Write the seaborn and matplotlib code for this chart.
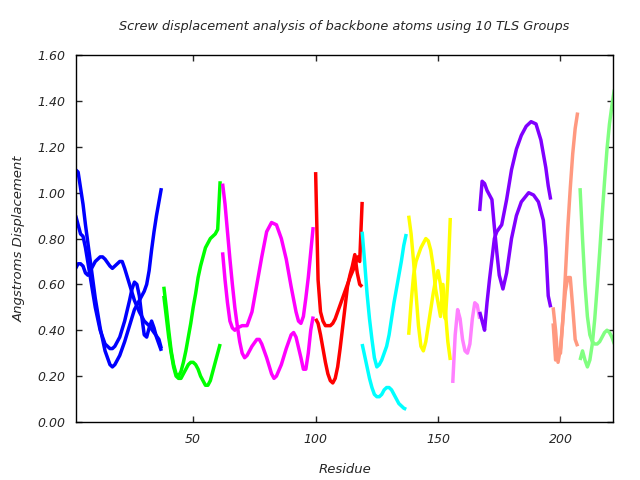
import numpy as np
import pandas as pd
import matplotlib
matplotlib.use("Agg")
import matplotlib.pyplot as plt
import seaborn as sns

# per-group screw displacement traces
blue_a_x = [2, 3, 4, 5, 6, 8, 10, 12, 14, 16, 17, 18, 20, 22, 24, 26, 28, 30, 31, 32, 33, 34, 35, 36, 37]
blue_a_y = [1.10, 1.09, 1.02, 0.95, 0.86, 0.70, 0.54, 0.41, 0.31, 0.25, 0.24, 0.25, 0.29, 0.35, 0.42, 0.49, 0.53, 0.57, 0.60, 0.66, 0.75, 0.83, 0.90, 0.96, 1.02]
blue_b_x = [2, 3, 4, 5, 6, 8, 10, 12, 14, 16, 17, 18, 20, 22, 24, 25, 26, 27, 28, 29, 30, 31, 32, 33, 34, 35, 36, 37]
blue_b_y = [0.90, 0.86, 0.82, 0.81, 0.76, 0.63, 0.50, 0.40, 0.34, 0.32, 0.32, 0.33, 0.37, 0.44, 0.53, 0.58, 0.61, 0.60, 0.55, 0.46, 0.38, 0.37, 0.41, 0.44, 0.41, 0.37, 0.34, 0.31]
blue_c_x = [2, 3, 4, 5, 6, 7, 8, 10, 12, 13, 14, 16, 17, 18, 20, 21, 22, 24, 26, 28, 30, 32, 34, 36, 37]
blue_c_y = [0.67, 0.69, 0.69, 0.68, 0.65, 0.64, 0.66, 0.70, 0.72, 0.72, 0.71, 0.68, 0.67, 0.68, 0.70, 0.70, 0.67, 0.60, 0.53, 0.48, 0.44, 0.42, 0.39, 0.36, 0.32]

green_x = [38, 39, 40, 41, 42, 43, 44, 45, 46, 47, 48, 49, 50, 51, 52, 53, 54, 55, 56, 57, 58, 59, 60, 61]
green_a_y = [0.59, 0.50, 0.40, 0.31, 0.25, 0.21, 0.20, 0.22, 0.26, 0.31, 0.37, 0.43, 0.50, 0.56, 0.63, 0.68, 0.72, 0.76, 0.78, 0.80, 0.81, 0.82, 0.84, 1.05]
green_b_y = [0.55, 0.46, 0.37, 0.30, 0.24, 0.20, 0.19, 0.19, 0.21, 0.23, 0.25, 0.26, 0.26, 0.25, 0.23, 0.20, 0.18, 0.16, 0.16, 0.18, 0.22, 0.26, 0.30, 0.34]

mag_a_x = [62, 63, 64, 65, 66, 67, 68, 69, 70, 71, 72, 74, 76, 77, 78, 80, 82, 83, 84, 86, 88, 90, 91, 92, 94, 95, 96, 97, 98, 99]
mag_a_y = [1.04, 0.95, 0.83, 0.71, 0.60, 0.50, 0.42, 0.35, 0.30, 0.28, 0.29, 0.33, 0.36, 0.36, 0.34, 0.28, 0.21, 0.19, 0.20, 0.25, 0.32, 0.38, 0.39, 0.37, 0.28, 0.23, 0.23, 0.30, 0.40, 0.46]
mag_b_x = [62, 63, 64, 65, 66, 67, 68, 70, 72, 74, 76, 78, 80, 82, 84, 86, 88, 90, 92, 93, 94, 95, 96, 97, 98, 99]
mag_b_y = [0.74, 0.62, 0.52, 0.44, 0.41, 0.40, 0.41, 0.42, 0.42, 0.48, 0.60, 0.72, 0.83, 0.87, 0.86, 0.80, 0.71, 0.59, 0.48, 0.44, 0.43, 0.46, 0.54, 0.63, 0.74, 0.85]

red_a_x = [100, 101, 102, 103, 104, 105, 106, 107, 108, 110, 112, 114, 116, 117, 118, 119]
red_a_y = [1.09, 0.62, 0.48, 0.44, 0.42, 0.42, 0.42, 0.43, 0.45, 0.51, 0.57, 0.63, 0.68, 0.72, 0.70, 0.96]
red_b_x = [100, 101, 102, 103, 104, 105, 106, 107, 108, 109, 110, 111, 112, 113, 114, 115, 116, 117, 118, 119]
red_b_y = [0.45, 0.43, 0.38, 0.32, 0.26, 0.21, 0.18, 0.17, 0.19, 0.24, 0.32, 0.41, 0.50, 0.59, 0.64, 0.68, 0.73, 0.65, 0.60, 0.59]

cyan_x = [119, 120, 121, 122, 123, 124, 125, 126, 127, 128, 129, 130, 131, 132, 133, 134, 135, 136, 137]
cyan_a_y = [0.83, 0.70, 0.56, 0.45, 0.36, 0.28, 0.24, 0.25, 0.27, 0.30, 0.33, 0.38, 0.45, 0.52, 0.58, 0.64, 0.70, 0.77, 0.82]
cyan_b_y = [0.34, 0.29, 0.24, 0.19, 0.15, 0.12, 0.11, 0.11, 0.12, 0.14, 0.15, 0.15, 0.14, 0.12, 0.10, 0.08, 0.07, 0.06, 0.055]

yellow_x = [138, 139, 140, 141, 142, 143, 144, 145, 146, 147, 148, 149, 150, 151, 152, 153, 154, 155]
yellow_a_y = [0.90, 0.82, 0.70, 0.56, 0.42, 0.33, 0.31, 0.35, 0.42, 0.49, 0.56, 0.62, 0.66, 0.60, 0.50, 0.45, 0.62, 0.89]
yellow_b_y = [0.38, 0.52, 0.64, 0.70, 0.73, 0.76, 0.78, 0.80, 0.79, 0.75, 0.68, 0.58, 0.52, 0.46, 0.60, 0.48, 0.35, 0.27]

pink_x = [156, 157, 158, 159, 160, 161, 162, 163, 164, 165, 166, 167]
pink_y = [0.17, 0.38, 0.49, 0.45, 0.36, 0.31, 0.30, 0.34, 0.45, 0.52, 0.51, 0.45]

purple_a_x = [167, 168, 169, 170, 172, 173, 174, 175, 176.5, 178, 180, 182, 184, 187, 189, 191, 193, 194, 195, 196]
purple_a_y = [0.92, 1.05, 1.04, 1.01, 0.97, 0.85, 0.74, 0.64, 0.58, 0.65, 0.80, 0.90, 0.96, 1.00, 0.99, 0.96, 0.88, 0.76, 0.55, 0.50]
purple_b_x = [167, 168, 169, 170, 171, 172, 173, 174, 176, 178, 180, 182, 184, 186, 188, 190, 192, 194, 195, 196]
purple_b_y = [0.48, 0.44, 0.40, 0.52, 0.62, 0.71, 0.80, 0.83, 0.86, 0.97, 1.10, 1.19, 1.25, 1.29, 1.31, 1.30, 1.23, 1.11, 1.03, 0.97]

salmon_x = [197, 198, 199, 200, 201, 202, 203, 204, 205, 206, 207]
salmon_a_y = [0.50, 0.40, 0.26, 0.32, 0.45, 0.57, 0.63, 0.63, 0.50, 0.36, 0.33]
salmon_b_y = [0.43, 0.27, 0.30, 0.30, 0.45, 0.64, 0.85, 1.02, 1.17, 1.28, 1.35]

lgreen_x = [208, 209, 210, 211, 212, 213, 214, 215, 216, 217, 218, 219, 220, 221, 222]
lgreen_a_y = [1.02, 0.80, 0.60, 0.46, 0.38, 0.35, 0.34, 0.34, 0.35, 0.37, 0.39, 0.40, 0.39, 0.37, 0.34]
lgreen_b_y = [0.27, 0.31, 0.27, 0.24, 0.27, 0.34, 0.45, 0.59, 0.74, 0.90, 1.05, 1.19, 1.30, 1.38, 1.45]

group_colors = {
    "g1": "#0000ff", "g2": "#00ff00", "g3": "#ff00ff", "g4": "#ff0000", "g5": "#00ffff",
    "g6": "#ffff00", "g7": "#ff80ff", "g8": "#8000ff", "g9": "#ff9980", "g10": "#80ff80",
}

traces = [
    ("g1", blue_a_x, blue_a_y), ("g1", blue_b_x, blue_b_y), ("g1", blue_c_x, blue_c_y),
    ("g2", green_x, green_a_y), ("g2", green_x, green_b_y),
    ("g3", mag_a_x, mag_a_y), ("g3", mag_b_x, mag_b_y),
    ("g4", red_a_x, red_a_y), ("g4", red_b_x, red_b_y),
    ("g5", cyan_x, cyan_a_y), ("g5", cyan_x, cyan_b_y),
    ("g6", yellow_x, yellow_a_y), ("g6", yellow_x, yellow_b_y),
    ("g7", pink_x, pink_y),
    ("g8", purple_a_x, purple_a_y), ("g8", purple_b_x, purple_b_y),
    ("g9", salmon_x, salmon_a_y), ("g9", salmon_x, salmon_b_y),
    ("g10", lgreen_x, lgreen_a_y), ("g10", lgreen_x, lgreen_b_y),
]

rows = []
for i, (grp, xs, ys) in enumerate(traces):
    for x, y in zip(xs, ys):
        rows.append({"residue": x, "disp": y, "group": grp, "line": i})
df = pd.DataFrame(rows)

sns.set_theme(style="ticks")
plt.rcParams['font.family'] = ['DejaVu Sans']

fig = plt.figure(figsize=(6.4, 4.8), dpi=100)
ax = fig.add_axes([0.119, 0.121, 0.839, 0.764])

sns.lineplot(data=df, x="residue", y="disp", hue="group", units="line", estimator=None,
             sort=False, palette=group_colors, linewidth=2.5, legend=False, ax=ax,
             solid_capstyle="butt")

ax.set_xlim(2.2, 221.5)
ax.set_ylim(0, 1.6)
ax.set_xticks([50, 100, 150, 200])
ax.set_yticks(np.arange(0, 1.61, 0.2))
ax.set_yticklabels([f"{v:.2f}" for v in np.arange(0, 1.61, 0.2)])
ax.tick_params(direction="in", top=True, right=True, length=4, width=1, labelsize=9, pad=8)
for lab in ax.get_xticklabels() + ax.get_yticklabels():
    lab.set_fontstyle("italic")
for s in ax.spines.values():
    s.set_linewidth(1)
    s.set_color("black")

ax.set_xlabel("Residue", fontsize=9.5, style="italic", labelpad=12)
ax.set_ylabel("Angstroms Displacement", fontsize=9.5, style="italic", labelpad=8)
ax.set_title("Screw displacement analysis of backbone atoms using 10 TLS Groups",
             fontsize=9.3, style="italic", pad=18)

fig.savefig("out.png", dpi=100)
